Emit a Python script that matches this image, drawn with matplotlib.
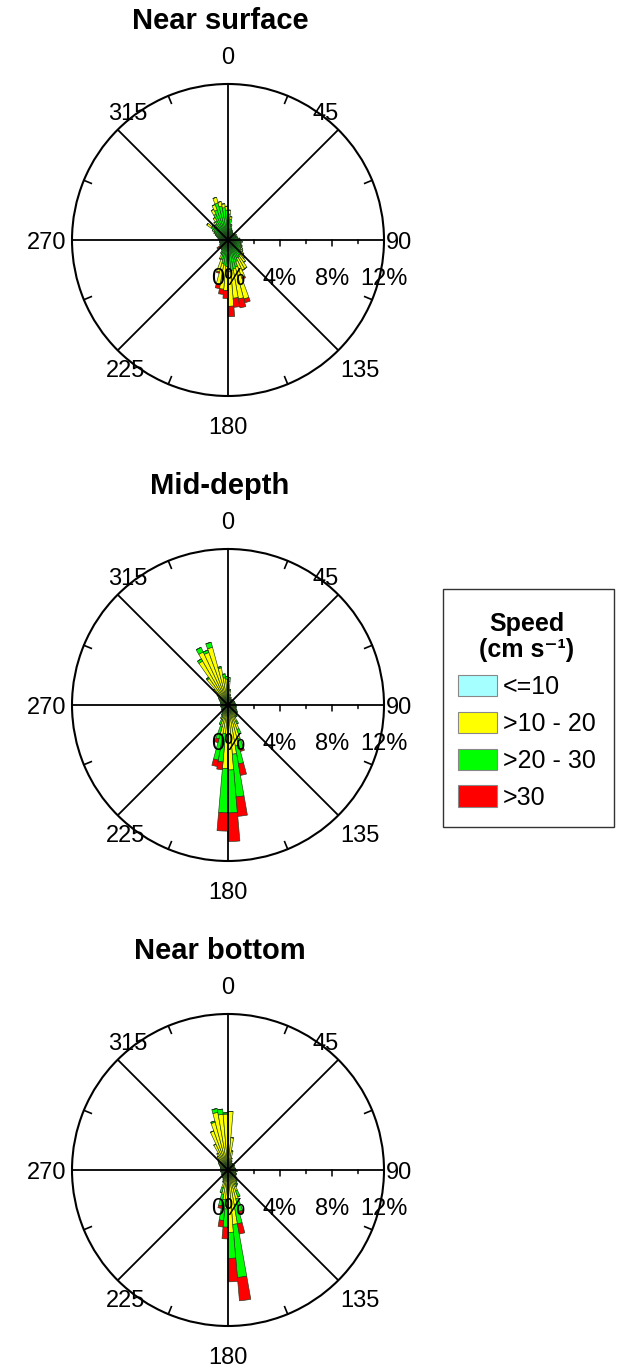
import numpy as np
import matplotlib
matplotlib.use("Agg")
import matplotlib.pyplot as plt
from matplotlib.patches import Patch, Rectangle
import matplotlib.transforms as mtransforms

plt.rcParams['font.family'] = ['Liberation Sans', 'DejaVu Sans']

# ---------------- data ----------------
# direction bins: 5-degree sectors, centers at 2.5, 7.5, ... 357.5 (degrees, clockwise from N)
bin_centers = np.arange(2.5, 360, 5.0)

speed_classes = ["<=10", ">10 - 20", ">20 - 30", ">30"]
class_colors = ["#a6ffff", "#ffff00", "#00ff00", "#ff0000"]
panel_titles = ["Near surface", "Mid-depth", "Near bottom"]
angle_labels = ["0", "45", "90", "135", "180", "225", "270", "315"]
pct_labels = ["0%", "4%", "8%", "12%"]
pct_values = [0, 4, 8, 12]

# percent of observations per bin and speed class
# each row holds 12 bins: row starts at 2.5, 62.5, 122.5, 182.5, 242.5, 302.5 deg
ns_le10 = [0.15] * 72
ns_10_20 = [0.30, 0.20, 0.10, 0.05, 0.05, 0.00, 0.00, 0.00, 0.05, 0.00, 0.00, 0.05,
            0.00, 0.05, 0.00, 0.00, 0.05, 0.05, 0.05, 0.10, 0.05, 0.05, 0.10, 0.10,
            0.15, 0.20, 0.30, 0.40, 0.65, 1.00, 1.00, 1.35, 2.55, 2.35, 2.15, 2.65,
            1.85, 1.85, 1.60, 1.00, 0.30, 0.10, 0.05, 0.05, 0.05, 0.00, 0.05, 0.00,
            0.05, 0.00, 0.00, 0.05, 0.00, 0.05, 0.00, 0.05, 0.05, 0.10, 0.10, 0.10,
            0.15, 0.40, 0.20, 0.15, 0.20, 0.30, 0.40, 0.45, 0.45, 0.35, 0.30, 0.30]
ns_20_30 = [1.85, 1.45, 0.95, 0.70, 0.60, 0.55, 0.50, 0.45, 0.50, 0.45, 0.50, 0.55,
            0.50, 0.55, 0.50, 0.60, 0.70, 0.75, 0.80, 0.85, 0.80, 0.85, 0.90, 0.95,
            1.00, 1.05, 1.15, 1.30, 1.30, 1.40, 1.40, 1.60, 2.00, 2.10, 2.20, 2.30,
            1.90, 1.80, 1.70, 1.40, 1.10, 0.90, 0.70, 0.60, 0.65, 0.70, 0.60, 0.55,
            0.50, 0.45, 0.50, 0.45, 0.50, 0.45, 0.50, 0.55, 0.60, 0.65, 0.80, 0.95,
            1.10, 1.45, 1.25, 1.20, 1.35, 1.55, 2.05, 2.30, 2.80, 2.50, 2.35, 2.15]
ns_gt30 = [0.00, 0.00, 0.00, 0.00, 0.00, 0.00, 0.00, 0.00, 0.00, 0.00, 0.00, 0.00,
           0.00, 0.00, 0.00, 0.00, 0.00, 0.00, 0.00, 0.00, 0.00, 0.00, 0.00, 0.00,
           0.00, 0.00, 0.00, 0.00, 0.00, 0.00, 0.05, 0.10, 0.30, 0.70, 0.70, 0.80,
           0.60, 0.40, 0.35, 0.10, 0.05, 0.00, 0.00, 0.00, 0.00, 0.00, 0.25, 0.00,
           0.00, 0.00, 0.00, 0.00, 0.00, 0.00, 0.00, 0.00, 0.00, 0.00, 0.00, 0.00,
           0.00, 0.00, 0.00, 0.00, 0.00, 0.00, 0.00, 0.00, 0.00, 0.00, 0.00, 0.00]

md_le10 = [0.30, 0.30, 0.35, 0.30, 0.40, 0.35, 0.30, 0.40, 0.35, 0.45, 0.40, 0.35,
           0.40, 0.45, 0.40, 0.35, 0.40, 0.45, 0.40, 0.40, 0.35, 0.40, 0.35, 0.40,
           0.35, 0.40, 0.30, 0.30, 0.30, 0.30, 0.30, 0.30, 0.30, 0.30, 0.40, 0.40,
           0.40, 0.30, 0.30, 0.30, 0.30, 0.35, 0.40, 0.35, 0.40, 0.35, 0.40, 0.45,
           0.40, 0.35, 0.40, 0.45, 0.40, 0.35, 0.40, 0.35, 0.40, 0.35, 0.30, 0.30,
           0.30, 0.30, 0.30, 0.30, 0.30, 0.30, 0.30, 0.30, 0.30, 0.30, 0.30, 0.30]
md_10_20 = [1.50, 0.80, 0.40, 0.25, 0.20, 0.15, 0.15, 0.10, 0.15, 0.10, 0.15, 0.10,
            0.15, 0.10, 0.15, 0.20, 0.15, 0.20, 0.15, 0.20, 0.25, 0.20, 0.25, 0.30,
            0.35, 0.40, 0.50, 0.60, 0.70, 0.70, 1.10, 1.70, 2.40, 2.90, 3.40, 4.60,
            4.50, 1.90, 2.00, 1.40, 0.90, 0.60, 0.40, 0.30, 0.25, 0.20, 0.20, 0.15,
            0.10, 0.15, 0.10, 0.15, 0.10, 0.15, 0.10, 0.15, 0.20, 0.25, 0.30, 0.40,
            0.50, 0.60, 0.80, 1.30, 2.20, 3.60, 4.20, 4.00, 4.30, 2.60, 1.80, 1.70]
md_20_30 = [0.30, 0.10, 0.05, 0.00, 0.00, 0.00, 0.00, 0.00, 0.00, 0.00, 0.00, 0.00,
            0.00, 0.00, 0.00, 0.00, 0.00, 0.00, 0.00, 0.05, 0.00, 0.05, 0.05, 0.05,
            0.10, 0.10, 0.10, 0.10, 0.10, 0.10, 0.20, 0.40, 0.80, 1.40, 3.30, 3.30,
            3.40, 2.20, 2.00, 1.00, 0.40, 0.20, 0.10, 0.05, 0.00, 0.00, 0.00, 0.00,
            0.00, 0.00, 0.00, 0.00, 0.00, 0.00, 0.00, 0.00, 0.00, 0.00, 0.00, 0.00,
            0.00, 0.00, 0.00, 0.00, 0.10, 0.20, 0.40, 0.20, 0.40, 0.10, 0.30, 0.20]
md_gt30 = [0.00, 0.00, 0.00, 0.00, 0.00, 0.00, 0.00, 0.00, 0.00, 0.00, 0.00, 0.00,
           0.00, 0.00, 0.00, 0.00, 0.00, 0.00, 0.00, 0.00, 0.00, 0.00, 0.00, 0.00,
           0.00, 0.00, 0.00, 0.00, 0.00, 0.00, 0.00, 0.00, 0.20, 0.90, 1.50, 2.20,
           1.40, 0.60, 0.50, 0.30, 0.00, 0.00, 0.00, 0.00, 0.00, 0.00, 0.00, 0.00,
           0.00, 0.00, 0.00, 0.00, 0.00, 0.00, 0.00, 0.00, 0.00, 0.00, 0.00, 0.00,
           0.00, 0.00, 0.00, 0.00, 0.00, 0.00, 0.00, 0.00, 0.00, 0.00, 0.00, 0.00]

nb_le10 = [0.30, 0.30, 0.30, 0.35, 0.40, 0.35, 0.40, 0.45, 0.40, 0.35, 0.40, 0.45,
           0.40, 0.35, 0.40, 0.45, 0.40, 0.35, 0.40, 0.45, 0.40, 0.35, 0.40, 0.35,
           0.30, 0.30, 0.30, 0.30, 0.30, 0.30, 0.30, 0.30, 0.30, 0.30, 0.40, 0.40,
           0.40, 0.30, 0.30, 0.30, 0.30, 0.35, 0.40, 0.45, 0.40, 0.35, 0.40, 0.45,
           0.40, 0.35, 0.40, 0.45, 0.40, 0.35, 0.40, 0.35, 0.40, 0.35, 0.30, 0.30,
           0.30, 0.30, 0.30, 0.30, 0.30, 0.30, 0.30, 0.30, 0.30, 0.30, 0.30, 0.30]
nb_10_20 = [4.20, 2.20, 1.20, 0.60, 0.35, 0.25, 0.20, 0.15, 0.10, 0.15, 0.10, 0.15,
            0.10, 0.15, 0.10, 0.15, 0.20, 0.15, 0.20, 0.25, 0.20, 0.25, 0.30, 0.35,
            0.35, 0.40, 0.50, 0.60, 0.70, 0.90, 0.90, 1.40, 2.00, 2.40, 3.80, 4.40,
            2.60, 2.00, 1.60, 1.10, 0.60, 0.40, 0.30, 0.25, 0.20, 0.15, 0.10, 0.15,
            0.10, 0.15, 0.10, 0.15, 0.10, 0.15, 0.20, 0.15, 0.20, 0.25, 0.30, 0.40,
            0.50, 0.60, 0.70, 0.80, 1.00, 1.20, 1.90, 2.90, 3.50, 4.20, 4.00, 4.00]
nb_20_30 = [0.00, 0.00, 0.00, 0.00, 0.00, 0.00, 0.00, 0.00, 0.00, 0.00, 0.00, 0.00,
            0.00, 0.00, 0.00, 0.00, 0.00, 0.00, 0.00, 0.00, 0.00, 0.00, 0.00, 0.00,
            0.05, 0.05, 0.10, 0.10, 0.10, 0.10, 0.20, 0.50, 1.00, 1.50, 4.10, 2.00,
            1.40, 1.60, 0.90, 0.40, 0.10, 0.05, 0.00, 0.00, 0.00, 0.00, 0.00, 0.00,
            0.00, 0.00, 0.00, 0.00, 0.00, 0.00, 0.00, 0.00, 0.00, 0.00, 0.00, 0.00,
            0.00, 0.00, 0.00, 0.00, 0.00, 0.00, 0.00, 0.00, 0.10, 0.30, 0.40, 0.10]
nb_gt30 = [0.00, 0.00, 0.00, 0.00, 0.00, 0.00, 0.00, 0.00, 0.00, 0.00, 0.00, 0.00,
           0.00, 0.00, 0.00, 0.00, 0.00, 0.00, 0.00, 0.00, 0.00, 0.00, 0.00, 0.00,
           0.00, 0.00, 0.00, 0.00, 0.00, 0.00, 0.00, 0.00, 0.20, 0.80, 1.80, 1.80,
           0.90, 0.50, 0.20, 0.00, 0.00, 0.00, 0.00, 0.00, 0.00, 0.00, 0.00, 0.00,
           0.00, 0.00, 0.00, 0.00, 0.00, 0.00, 0.00, 0.00, 0.00, 0.00, 0.00, 0.00,
           0.00, 0.00, 0.00, 0.00, 0.00, 0.00, 0.00, 0.00, 0.00, 0.00, 0.00, 0.00]

panels = [
    # (series by class, stacking order as drawn outward from the centre)
    ([ns_le10, ns_10_20, ns_20_30, ns_gt30], [0, 2, 1, 3]),
    ([md_le10, md_10_20, md_20_30, md_gt30], [0, 1, 2, 3]),
    ([nb_le10, nb_10_20, nb_20_30, nb_gt30], [0, 1, 2, 3]),
]

# ---------------- figure ----------------
W, H = 617, 1370
fig = plt.figure(figsize=(W / 100, H / 100), dpi=100)

cx, R = 228, 156
centers_y = [240, 705, 1170]
title_baseline = [29, 494, 959]

theta = np.deg2rad(bin_centers)
width = np.deg2rad(5.0)
edge_col = "#1f3d1f"

dy = -0.009
label_pos = {"0": (0.5, 1.093 + dy), "45": (0.814, 0.913 + dy), "90": (1.048, 0.5 + dy),
             "135": (0.923, 0.090 + dy), "180": (0.5, -0.093 + dy),
             "225": (0.173, 0.090 + dy), "270": (-0.08, 0.5 + dy),
             "315": (0.179, 0.913 + dy)}

for k, (series, order) in enumerate(panels):
    cy = centers_y[k]
    ax = fig.add_axes([(cx - R) / W, (H - cy - R) / H, 2 * R / W, 2 * R / H],
                      projection="polar")
    ax.set_theta_zero_location("N")
    ax.set_theta_direction(-1)
    ax.set_ylim(0, 12)
    bottom = np.zeros(len(bin_centers))
    for ci in order:
        vals = np.array(series[ci])
        ax.bar(theta, vals, width=width, bottom=bottom, color=class_colors[ci],
               edgecolor=edge_col, linewidth=0.45, zorder=1,
               label=speed_classes[ci])
        bottom = bottom + vals

    ax.set_yticks([])
    ax.set_xticks(np.deg2rad(np.arange(0, 360, 45)))
    ax.set_xticklabels([])
    ax.xaxis.grid(True, color="black", linewidth=1.3)
    ax.yaxis.grid(False)
    ax.set_axisbelow(False)
    ax.spines["polar"].set_linewidth(1.5)
    ax.tick_params(axis="x", length=0)

    # inward tick marks on the outer circle
    for a in np.arange(22.5, 360, 45):
        ax.plot([np.deg2rad(a)] * 2, [12 * (1 - 8 / R), 12], color="black",
                linewidth=1.2, zorder=3, clip_on=False)

    # radial scale ticks along the east axis
    for r in [2, 4, 6, 8, 10]:
        ln = 6 if r in (4, 8) else 3.5
        ax.annotate("", xy=(np.pi / 2, r), xytext=(0, -ln * 0.72),
                    textcoords="offset points",
                    arrowprops=dict(arrowstyle="-", color="black", lw=1.1,
                                    shrinkA=0, shrinkB=0), zorder=3)
    off = mtransforms.offset_copy(ax.transData, fig=fig, x=0, y=-39 * 0.72,
                                  units="points")
    for lab, v in zip(pct_labels, pct_values):
        ax.text(np.pi / 2, v, lab, transform=off, ha="center", va="center",
                fontsize=17, zorder=4)

    for lab in angle_labels:
        x, y = label_pos[lab]
        ax.text(x, y, lab, transform=ax.transAxes, ha="center", va="center",
                fontsize=17)

    fig.text(220 / W, 1 - title_baseline[k] / H, panel_titles[k], ha="center",
             va="baseline", fontsize=21, fontweight="bold")

# legend frame drawn separately so the box matches the reference exactly
fig.patches.append(Rectangle((443 / W, 1 - 827 / H), (614 - 443) / W, (827 - 589) / H,
                             transform=fig.transFigure, facecolor="white",
                             edgecolor="#333333", linewidth=1.0, zorder=0))
leg_handles = [Patch(facecolor=class_colors[i], edgecolor="#888888", linewidth=0.8)
               for i in range(4)]
leg = fig.legend(leg_handles, speed_classes, loc="upper left",
                 bbox_to_anchor=(443 / W, 1 - 597 / H),
                 title="Speed\n(cm s\u207b\u00b9)",
                 title_fontproperties={"weight": "bold", "size": 18},
                 fontsize=18, frameon=False,
                 handlelength=1.55, handleheight=0.95, handletextpad=0.25,
                 labelspacing=0.5, borderpad=0.6, borderaxespad=0)
leg.get_title().set_multialignment("center")
leg.get_title().set_linespacing(1.12)

fig.savefig("out.png", dpi=100)
